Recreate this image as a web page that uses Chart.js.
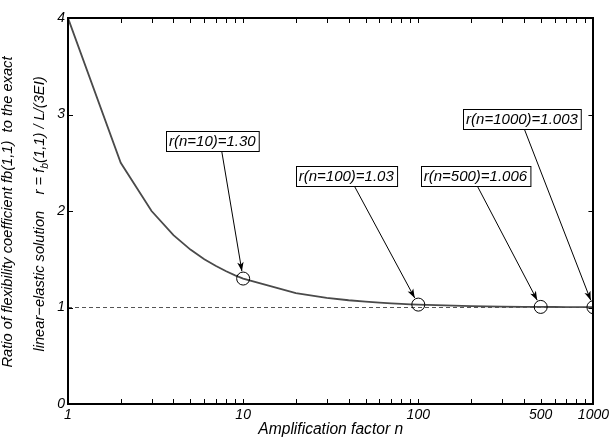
<!DOCTYPE html>
<html><head><meta charset="utf-8">
<script src="https://cdn.jsdelivr.net/npm/chart.js@4/dist/chart.umd.min.js"></script>
<style>html,body{margin:0;padding:0;background:#fff}#wrap{width:612px;height:448px;position:relative}</style>
</head><body><div id="wrap"><canvas id="c"></canvas></div>
<script>
const nValues = [1,2,3,4,5,6,7,8,9,10,20,30,40,50,60,70,80,90,100,200,300,400,500,600,700,800,900,1000];
const rValues = [4.0,2.5,2.0,1.75,1.6,1.5,1.43,1.375,1.333,1.30,1.15,1.10,1.075,1.06,1.05,1.043,1.0375,1.033,1.03,1.015,1.01,1.0075,1.006,1.005,1.0043,1.0038,1.0033,1.003];
const markN = [10,100,500,1000];
const markR = [1.30,1.03,1.006,1.003];
const markLabels = ['r(n=10)=1.30','r(n=100)=1.03','r(n=500)=1.006','r(n=1000)=1.003'];
const labelX = [6.67,38.8,212,391];
const labelY = [2.73,2.36,2.36,2.95];
const arrowStartX = [7.55,43.3,218,404];
const xTickValues = [1,10,100,500,1000];
const yTickValues = [0,1,2,3,4];
const referenceY = 1;
const xTitle = 'Amplification factor n';
const yTitleLine1 = 'Ratio of flexibility coefficient fb(1,1)  to the exact';
const yTitleLine2a = 'linear\u2212elastic solution    r = f';
const yTitleSub = 'b';
const yTitleLine2b = '(1,1) / L/(3EI)';

const FONT = '"Liberation Sans", Arial, sans-serif';

const decorPlugin = {
  id: 'decor',
  afterDatasetsDraw(chart) {
    const ctx = chart.ctx;
    const xs = chart.scales.x, ys = chart.scales.y;
    const a = chart.chartArea;
    ctx.save();
    // frame
    ctx.strokeStyle = '#000';
    ctx.lineWidth = 2;
    ctx.strokeRect(Math.round(a.left), Math.round(a.top), Math.round(a.right - a.left), Math.round(a.bottom - a.top));
    // ticks inside
    ctx.lineWidth = 1;
    const tl = 5;
    ctx.beginPath();
    for (let d = 1; d < 1000; d *= 10) {
      for (let m = 1; m <= 9; m++) {
        const v = d * m;
        if (v <= 1 || v >= 1000) continue;
        const px = Math.round(xs.getPixelForValue(v)) + 0.5;
        ctx.moveTo(px, a.bottom); ctx.lineTo(px, a.bottom - tl);
        ctx.moveTo(px, a.top); ctx.lineTo(px, a.top + tl);
      }
    }
    yTickValues.forEach(v => {
      const py = Math.round(ys.getPixelForValue(v)) + 0.5;
      ctx.moveTo(a.left, py); ctx.lineTo(a.left + tl, py);
      ctx.moveTo(a.right, py); ctx.lineTo(a.right - tl, py);
    });
    ctx.stroke();

    // annotations
    ctx.font = 'italic 15px ' + FONT;
    ctx.textAlign = 'center';
    ctx.textBaseline = 'middle';
    markLabels.forEach((lab, i) => {
      const cx = xs.getPixelForValue(labelX[i]);
      const cy = ys.getPixelForValue(labelY[i]);
      const w = ctx.measureText(lab).width + 6;
      const h = 20;
      const bx = Math.round(cx - w / 2) + 0.5, by = Math.round(cy - h / 2) + 0.5;
      ctx.fillStyle = '#fff';
      ctx.fillRect(bx, by, w, h);
      ctx.strokeStyle = '#000';
      ctx.lineWidth = 1;
      ctx.strokeRect(bx, by, w, h);
      ctx.fillStyle = '#000';
      ctx.fillText(lab, cx, cy + 1);
      // arrow
      const sx = xs.getPixelForValue(arrowStartX[i]);
      const sy = by + h;
      const tx = xs.getPixelForValue(markN[i]);
      const ty = ys.getPixelForValue(markR[i]);
      const dx = tx - sx, dy = ty - sy;
      const len = Math.hypot(dx, dy);
      const ux = dx / len, uy = dy / len;
      const ex = tx - ux * 7.5, ey = ty - uy * 7.5;
      ctx.beginPath();
      ctx.moveTo(sx, sy); ctx.lineTo(ex, ey);
      ctx.stroke();
      const hl = 9, hw = 3.2;
      ctx.beginPath();
      ctx.moveTo(ex, ey);
      ctx.lineTo(ex - ux * hl - uy * hw, ey - uy * hl + ux * hw);
      ctx.lineTo(ex - ux * hl * 0.75, ey - uy * hl * 0.75);
      ctx.lineTo(ex - ux * hl + uy * hw, ey - uy * hl - ux * hw);
      ctx.closePath();
      ctx.fill();
    });

    // y titles
    ctx.fillStyle = '#000';
    const f1 = 'italic 14.7px ' + FONT, f2 = 'italic 10.5px ' + FONT;
    ctx.font = f1;
    ctx.textBaseline = 'middle';
    ctx.save();
    ctx.translate(8, 212);
    ctx.rotate(-Math.PI / 2);
    ctx.textAlign = 'center';
    ctx.fillText(yTitleLine1, 0, 0);
    ctx.restore();

    ctx.save();
    ctx.translate(40, 214);
    ctx.rotate(-Math.PI / 2);
    ctx.textAlign = 'left';
    ctx.font = f1; const w1 = ctx.measureText(yTitleLine2a).width;
    const w3 = ctx.measureText(yTitleLine2b).width;
    ctx.font = f2; const w2 = ctx.measureText(yTitleSub).width;
    let x0 = -(w1 + w2 + w3) / 2;
    ctx.font = f1; ctx.fillText(yTitleLine2a, x0, 0);
    ctx.font = f2; ctx.fillText(yTitleSub, x0 + w1, 5);
    ctx.font = f1; ctx.fillText(yTitleLine2b, x0 + w1 + w2, 0);
    ctx.restore();

    // x title
    ctx.textAlign = 'center';
    ctx.font = 'italic 15.6px ' + FONT;
    ctx.fillText(xTitle, (a.left + a.right) / 2, 430);
    ctx.restore();
  }
};

new Chart(document.getElementById('c'), {
  type: 'line',
  data: {
    datasets: [
      {
        data: nValues.map((n, i) => ({x: n, y: rValues[i]})),
        borderColor: '#4a4a4a', borderWidth: 1.8, pointRadius: 0, tension: 0, fill: false, order: 2
      },
      {
        data: [{x: nValues[0], y: referenceY}, {x: nValues[nValues.length - 1], y: referenceY}],
        borderColor: '#555', borderWidth: 1, borderDash: [4, 3], pointRadius: 0, fill: false, order: 1
      },
      {
        data: markN.map((n, i) => ({x: n, y: markR[i]})),
        showLine: false, pointRadius: 6.5, pointBorderWidth: 1, pointBorderColor: '#000',
        pointBackgroundColor: 'rgba(0,0,0,0)', order: 0
      }
    ]
  },
  options: {
    responsive: true, maintainAspectRatio: false, animation: false,
    layout: {padding: {left: 0, top: 18, right: 18, bottom: 0}},
    plugins: {legend: {display: false}, tooltip: {enabled: false}},
    scales: {
      x: {
        type: 'logarithmic', min: 1, max: 1000,
        grid: {display: false, drawTicks: false}, border: {display: false},
        afterBuildTicks: s => { s.ticks = xTickValues.map(v => ({value: v})); },
        afterFit: s => { s.height = 44; },
        ticks: {autoSkip: false, maxRotation: 0, padding: 3, color: '#000',
          font: {family: FONT, size: 14, style: 'italic'}, callback: v => String(v)}
      },
      y: {
        min: 0, max: 4,
        grid: {display: false, drawTicks: false}, border: {display: false},
        afterBuildTicks: s => { s.ticks = yTickValues.map(v => ({value: v})); },
        afterFit: s => { s.width = 68; },
        ticks: {padding: 3, color: '#000', font: {family: FONT, size: 14, style: 'italic'},
          callback: v => String(v)}
      }
    }
  },
  plugins: [decorPlugin]
});
</script></body></html>
